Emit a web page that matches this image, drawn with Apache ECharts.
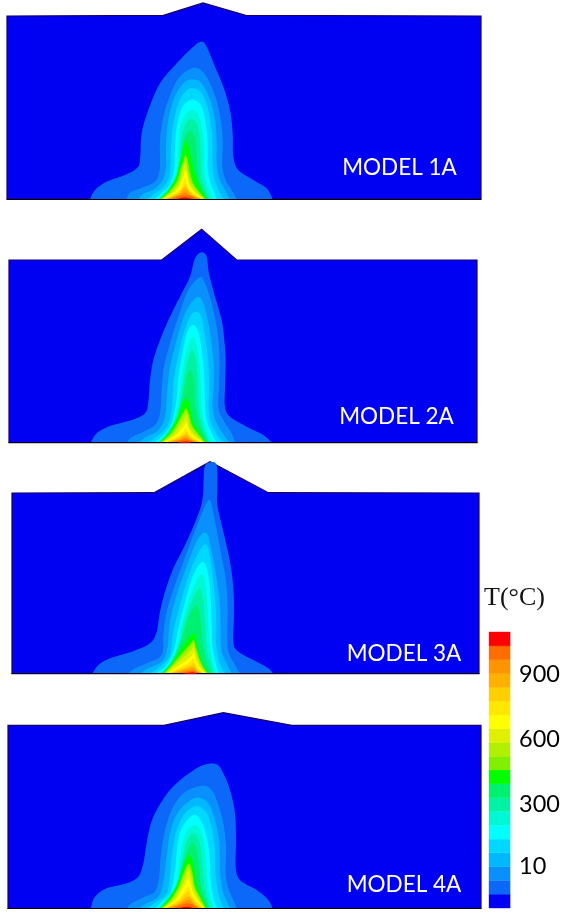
<!DOCTYPE html>
<html><head><meta charset="utf-8">
<style>html,body{margin:0;padding:0;background:#fff}#c{width:563px;height:914px;filter:blur(0.45px)}</style>
<script src="https://cdn.jsdelivr.net/npm/echarts@6/dist/echarts.min.js"></script>
</head><body><div id="c"></div>
<script>
const bandColors = ['#0000f2','#0c68f8','#0a90fc','#00b8ff','#00d8ff','#00ffff','#00f8d4','#00f2a4','#00f070','#00ff00','#80f000','#b0f000','#e0f000','#ffff00','#ffe800','#ffd000','#ffb000','#ff9400','#ff6c00','#ff0000'];
const bandEdges = [-180,-116,-53,11,75,138,202,266,329,393,457,520,584,648,711,775,839,902,966,1030,1094];
const barTicks = [10,300,600,900];
const modelNames = ['MODEL 1A','MODEL 2A','MODEL 3A','MODEL 4A'];

const bodyOutline1 = [[-159,48],[310,46],[429,9],[557,46],[1263,48],[1263,597],[-159,597]];
const bodyOutline2 = [[-153,120],[305,120],[425,28],[530,120],[1251,120],[1251,668],[-153,668]];
const bodyOutline3 = [[-144,114],[282,113],[450,20],[625,113],[1257,114],[1257,656],[-144,656]];
const bodyOutline4 = [[-156,76],[312,76],[490,38],[695,76],[1263,76],[1263,625],[-156,625]];

const model1Contours = [
[[90,597],[105,570],[140,545],[195,525],[230,505],[240,480],[245,400],[265,330],[300,250],[350,190],[400,140],[425,125],[440,140],[465,200],[490,260],[510,330],[518,400],[520,470],[535,510],[580,540],[620,565],[638,597]],
[[200,597],[210,578],[250,562],[285,545],[298,515],[300,470],[300,420],[308,360],[325,300],[355,235],[395,205],[425,212],[450,250],[472,310],[485,380],[488,440],[487,500],[497,540],[515,570],[530,597]],
[[235,597],[250,582],[285,565],[308,540],[318,500],[318,430],[325,360],[342,295],[370,250],[397,238],[425,250],[450,300],[465,360],[470,430],[470,490],[478,535],[495,570],[510,597]],
[[262,597],[285,580],[315,555],[330,515],[333,440],[340,370],[355,310],[378,272],[400,265],[425,280],[445,330],[455,390],[457,450],[458,510],[468,550],[480,578],[490,597]],
[[285,597],[305,578],[328,555],[342,510],[345,440],[350,380],[365,325],[385,303],[405,300],[425,320],[437,370],[443,430],[443,500],[450,545],[462,575],[470,597]],
[[295,597],[315,575],[338,545],[352,500],[355,440],[358,390],[372,350],[395,330],[415,345],[425,385],[432,440],[432,500],[438,545],[450,575],[455,597]],
[[298,597],[320,575],[345,540],[358,495],[362,440],[368,395],[382,365],[398,358],[412,375],[420,420],[422,480],[425,530],[438,570],[448,597]],
[[300,597],[325,572],[348,535],[360,490],[367,440],[378,405],[392,392],[404,410],[410,450],[412,500],[418,540],[430,570],[443,597]],
[[298,597],[325,572],[348,530],[358,490],[368,450],[378,420],[388,450],[397,490],[410,535],[425,570],[440,597]],
[[303,597],[330,572],[352,540],[362,505],[372,478],[376,462],[383,480],[389,510],[398,545],[415,572],[436,597]],
[[305,597],[335,572],[356,542],[365,510],[376,470],[382,500],[386,520],[395,548],[412,573],[433,597]],
[[307,597],[340,573],[358,548],[368,515],[376,485],[382,515],[390,550],[408,575],[431,597]],
[[309,597],[345,575],[360,555],[370,530],[376,510],[382,530],[388,555],[404,578],[429,597]],
[[311,597],[348,578],[364,562],[375,535],[384,562],[400,580],[427,597]],
[[314,597],[352,580],[368,565],[375,550],[382,567],[398,582],[425,597]],
[[317,597],[356,582],[375,562],[395,584],[423,597]],
[[322,597],[360,584],[375,574],[392,586],[419,597]],
[[335,597],[375,584],[412,597]],
[[352,597],[375,592],[396,597]]
];
const model2Contours = [
[[92,668],[110,640],[150,618],[215,600],[255,580],[265,545],[270,480],[280,420],[300,360],[330,290],[365,220],[390,170],[405,115],[425,97],[440,110],[447,160],[465,230],[485,300],[493,360],[497,420],[495,500],[495,560],[510,590],[560,620],[610,645],[635,668]],
[[200,668],[215,652],[250,635],[285,615],[300,580],[305,510],[312,440],[330,370],[355,290],[385,210],[420,172],[435,190],[452,240],[470,320],[478,400],[478,480],[475,560],[490,600],[515,640],[525,668]],
[[235,668],[260,650],[295,630],[315,590],[322,510],[330,440],[350,360],[375,280],[410,232],[430,250],[445,310],[457,390],[462,470],[458,560],[470,610],[495,650],[508,668]],
[[262,668],[290,650],[320,620],[335,570],[340,490],[352,420],[370,345],[390,290],[410,275],[425,295],[437,360],[445,430],[447,510],[447,580],[462,630],[490,668]],
[[282,668],[305,650],[332,615],[348,550],[355,470],[367,400],[380,340],[398,315],[415,335],[425,390],[432,460],[435,540],[440,600],[458,645],[470,668]],
[[292,668],[315,645],[340,605],[356,545],[365,470],[378,400],[395,352],[410,375],[418,430],[423,500],[425,570],[435,620],[455,668]],
[[296,668],[320,640],[347,600],[362,540],[372,470],[385,415],[397,390],[408,420],[413,480],[415,550],[425,610],[448,668]],
[[298,668],[325,638],[352,590],[367,530],[378,480],[392,450],[403,490],[405,550],[418,610],[443,668]],
[[300,668],[330,635],[352,590],[367,550],[379,535],[390,560],[398,600],[420,640],[438,668]],
[[301,668],[332,640],[354,605],[368,580],[378,565],[388,585],[396,615],[418,645],[437,668]],
[[303,668],[336,642],[357,610],[371,585],[378,572],[386,590],[393,618],[414,646],[435,668]],
[[305,668],[340,644],[360,615],[373,598],[378,585],[384,600],[390,625],[410,648],[432,668]],
[[307,668],[344,648],[363,628],[374,615],[378,605],[384,620],[390,636],[406,652],[430,668]],
[[310,668],[348,652],[368,638],[378,625],[387,640],[402,655],[428,668]],
[[314,668],[352,654],[372,643],[378,635],[385,645],[398,657],[425,668]],
[[320,668],[356,656],[378,645],[394,658],[420,668]],
[[328,668],[360,659],[378,652],[392,660],[416,668]],
[[338,668],[378,658],[408,668]],
[[352,668],[378,664],[394,668]]
];
const model3Contours = [
[[97,656],[115,630],[150,610],[215,590],[270,565],[290,530],[300,470],[315,410],[340,340],[375,270],[410,190],[428,130],[433,40],[450,22],[470,30],[472,90],[472,150],[490,230],[510,320],[520,400],[522,480],[520,560],[535,590],[590,620],[625,640],[640,656]],
[[205,656],[225,640],[260,625],[305,600],[310,540],[320,470],[345,390],[385,280],[420,190],[448,135],[465,200],[482,290],[497,370],[503,450],[502,540],[505,590],[525,630],[540,656]],
[[240,656],[265,640],[305,620],[322,580],[330,500],[350,420],[385,320],[415,250],[440,235],[455,290],[470,370],[480,450],[482,540],[485,590],[505,635],[515,656]],
[[268,656],[300,635],[330,600],[340,530],[360,450],[390,350],[420,285],[440,270],[452,320],[462,400],[468,480],[468,560],[478,620],[495,656]],
[[285,656],[315,635],[340,590],[355,520],[375,440],[400,360],[428,320],[445,360],[452,430],[455,510],[458,580],[475,656]],
[[295,656],[325,630],[350,580],[365,510],[388,430],[410,375],[428,358],[438,400],[443,470],[447,550],[455,610],[468,656]],
[[300,656],[330,625],[357,570],[375,500],[395,440],[418,400],[430,440],[435,510],[440,580],[450,620],[460,656]],
[[305,656],[335,620],[362,560],[380,500],[410,450],[423,510],[428,570],[440,620],[455,656]],
[[310,656],[340,618],[370,570],[402,535],[412,575],[425,620],[445,656]],
[[312,656],[342,622],[374,585],[392,565],[401,555],[409,580],[423,622],[443,656]],
[[314,656],[346,624],[378,590],[393,572],[401,562],[408,585],[421,625],[441,656]],
[[317,656],[350,626],[382,597],[396,582],[401,572],[407,595],[419,628],[439,656]],
[[320,656],[356,632],[385,612],[397,600],[401,590],[406,610],[416,634],[437,656]],
[[323,656],[362,636],[389,622],[401,610],[407,625],[414,640],[435,656]],
[[327,656],[366,640],[392,630],[401,624],[406,633],[413,645],[432,656]],
[[332,656],[372,643],[400,635],[412,648],[428,656]],
[[340,656],[378,646],[400,641],[410,650],[424,656]],
[[350,656],[398,648],[420,656]],
[[365,656],[398,652],[412,656]]
];
const model4Contours = [
[[92,625],[105,590],[140,565],[200,550],[235,530],[250,490],[258,440],[270,380],[290,330],[330,270],[380,225],[430,195],[470,193],[490,220],[510,270],[525,340],[528,420],[527,500],[540,540],[590,570],[625,600],[638,625]],
[[200,625],[215,610],[255,590],[285,575],[297,535],[302,470],[313,400],[335,330],[370,280],[420,258],[450,265],[470,300],[490,370],[498,440],[497,520],[505,565],[520,600],[530,625]],
[[235,625],[260,610],[295,590],[310,545],[320,470],[330,400],[352,340],[385,305],[415,293],[445,310],[465,360],[478,430],[480,510],[487,570],[510,625]],
[[262,625],[290,605],[320,580],[330,530],[338,450],[350,390],[375,340],[410,318],[440,340],[455,385],[465,450],[467,530],[478,590],[492,625]],
[[285,625],[305,605],[332,575],[345,510],[352,440],[365,385],[400,345],[425,365],[442,420],[450,480],[452,540],[462,600],[472,625]],
[[295,625],[315,600],[345,560],[357,500],[365,440],[380,395],[405,375],[425,400],[435,450],[440,510],[445,570],[460,625]],
[[298,625],[320,600],[350,555],[365,490],[378,430],[398,400],[416,420],[425,470],[430,530],[440,590],[452,625]],
[[300,625],[325,595],[352,550],[370,490],[385,445],[400,430],[412,460],[418,510],[425,565],[447,625]],
[[302,625],[328,595],[353,550],[368,500],[388,465],[403,505],[410,550],[425,590],[440,625]],
[[304,625],[332,598],[355,560],[370,520],[387,490],[398,522],[405,560],[422,595],[438,625]],
[[306,625],[336,598],[358,562],[373,525],[386,498],[396,528],[403,562],[419,596],[436,625]],
[[308,625],[340,600],[360,568],[375,535],[386,510],[394,538],[401,568],[416,598],[434,625]],
[[310,625],[344,602],[362,575],[377,550],[385,535],[392,552],[398,575],[412,600],[432,625]],
[[312,625],[348,604],[366,585],[385,560],[394,582],[408,603],[430,625]],
[[315,625],[352,607],[370,590],[385,575],[393,592],[405,606],[427,625]],
[[320,625],[356,610],[385,590],[403,610],[423,625]],
[[326,625],[360,612],[385,600],[402,613],[418,625]],
[[336,625],[385,610],[412,625]],
[[350,625],[385,620],[398,625]]
];

const panels = [
  {body: bodyOutline1, contours: model1Contours, top: 0,   label: [399.5,168]},
  {body: bodyOutline2, contours: model2Contours, top: 220, label: [396.5,417]},
  {body: bodyOutline3, contours: model3Contours, top: 455, label: [404,654]},
  {body: bodyOutline4, contours: model4Contours, top: 700, label: [404,885]}
];

function spline(p) {
  const out = [];
  for (let i = 0; i < p.length - 1; i++) {
    const a = p[Math.max(i-1,0)], b = p[i], c = p[i+1], d = p[Math.min(i+2,p.length-1)];
    for (let k = 0; k < 8; k++) {
      const t = k/8, t2 = t*t, t3 = t2*t;
      out.push([0,1].map(j => 0.5*(2*b[j] + (c[j]-a[j])*t + (2*a[j]-5*b[j]+4*c[j]-d[j])*t2 + (3*b[j]-a[j]-3*c[j]+d[j])*t3)));
    }
  }
  out.push(p[p.length-1]);
  return out;
}

function polySeries(i, pts, style, smooth, z) {
  return {
    type: 'custom', xAxisIndex: i, yAxisIndex: i, data: pts, silent: true, z: z,
    encode: {x: 0, y: 1}, clip: false,
    renderItem(params, api) {
      if (params.dataIndex !== 0) return null;
      const px = pts.map(q => api.coord(q));
      return {type: 'polygon', shape: {points: smooth ? spline(px) : px}, style: style};
    }
  };
}

const grids = [], xAxes = [], yAxes = [], series = [], titles = [];
panels.forEach((pn, i) => {
  const xs = pn.body.map(q => q[0]), ys = pn.body.map(q => q[1]);
  const xmin = Math.min(...xs), xmax = Math.max(...xs), ymax = Math.max(...ys);
  grids.push({left: 60 + xmin/3, top: pn.top, width: (xmax-xmin)/3, height: ymax/3});
  xAxes.push({gridIndex: i, type: 'value', min: xmin, max: xmax, position: 'bottom',
    axisLine: {show: true, onZero: false, lineStyle: {color: '#000', width: 1}}, axisTick: {show: false}, axisLabel: {show: false}, splitLine: {show: false}, z: 20});
  yAxes.push({gridIndex: i, type: 'value', inverse: true, min: 0, max: ymax, show: false, splitLine: {show: false}});
  series.push(polySeries(i, pn.body, {fill: bandColors[0], stroke: '#1a0066', lineWidth: 1.2}, false, 2));
  pn.contours.forEach((c, k) => series.push(polySeries(i, c, {fill: bandColors[k+1]}, true, 3 + k)));
  titles.push({text: modelNames[i], left: pn.label[0], top: pn.label[1], padding: 0, textAlign: 'center', textVerticalAlign: 'middle',
    textStyle: {color: '#fff', fontFamily: 'Lato', fontWeight: 'normal', fontSize: 22.5}});
});

const barIndex = panels.length;
grids.push({left: 489, top: 632, width: 27, height: 276});
xAxes.push({gridIndex: barIndex, type: 'value', min: 0, max: 1, show: false, splitLine: {show: false}});
yAxes.push({gridIndex: barIndex, type: 'value', position: 'right', min: bandEdges[0], max: bandEdges[bandEdges.length-1],
  axisLine: {show: false}, axisTick: {show: false}, splitLine: {show: false},
  axisLabel: {show: true, customValues: barTicks, margin: 9, padding: [6,0,0,0], color: '#000', fontFamily: 'Lato', fontSize: 23.5}});
series.push({
  type: 'custom', xAxisIndex: barIndex, yAxisIndex: barIndex, silent: true,
  data: bandColors.map((c, i) => [bandEdges[i], bandEdges[i+1]]),
  encode: {y: [0, 1]},
  renderItem(params, api) {
    const a = api.coord([0, api.value(0)]), b = api.coord([1, api.value(1)]);
    return {type: 'rect', shape: {x: a[0], y: b[1], width: b[0]-a[0], height: a[1]-b[1]},
      style: {fill: bandColors[params.dataIndex], stroke: bandColors[params.dataIndex], lineWidth: 0.4}};
  }
});
titles.push({text: 'T(°C)', left: 484, top: 598, padding: 0, textVerticalAlign: 'middle',
  textStyle: {color: '#111', fontFamily: 'Liberation Serif', fontWeight: 'normal', fontSize: 26}});

const chart = echarts.init(document.getElementById('c'), null, {width: 563, height: 914});
chart.setOption({animation: false, backgroundColor: '#fff', title: titles, grid: grids, xAxis: xAxes, yAxis: yAxes, series: series});
</script></body></html>
